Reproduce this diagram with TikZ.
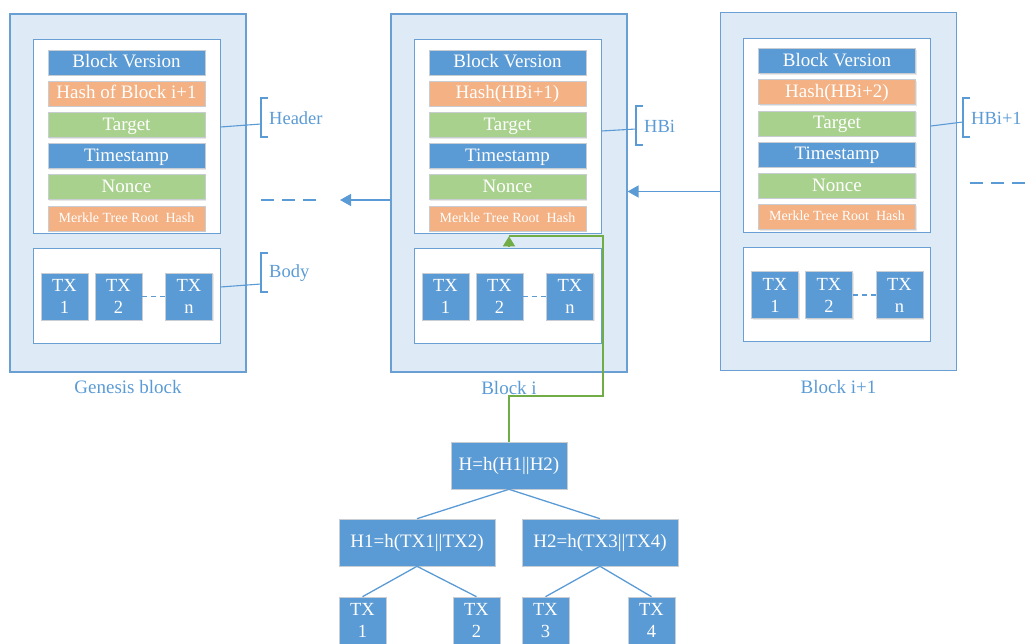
\documentclass[tikz,border=0pt]{standalone}
\usepackage{fontspec}
\setmainfont{Liberation Serif}
\usetikzlibrary{arrows.meta,shadows,calc}
\definecolor{cblue}{HTML}{5B9BD5}
\definecolor{cline}{HTML}{6A9FD3}
\definecolor{corange}{HTML}{F4B183}
\definecolor{cgreen}{HTML}{A9D18E}
\definecolor{cbg}{HTML}{DEEAF6}
\definecolor{gline}{HTML}{70AD47}
\definecolor{cedge}{HTML}{C8CDD3}
\tikzset{
  blockbg/.style={draw=cline, fill=cbg, line width=1.1pt, minimum width=236pt, minimum height=358pt, inner sep=0pt},
  innerbox/.style={draw=cline, fill=white, line width=1pt, minimum width=187pt, inner sep=0pt},
  rowbox/.style={draw=cedge, line width=0.6pt, minimum width=157pt, minimum height=25pt, inner sep=0pt,
    text=white, font=\fontsize{19}{21}\selectfont, text height=12.5pt, text depth=2pt,
    drop shadow={opacity=0.18, shadow xshift=1.2pt, shadow yshift=-1.2pt}},
  rowblue/.style={rowbox, fill=cblue},
  roworange/.style={rowbox, fill=corange},
  rowgreen/.style={rowbox, fill=cgreen},
  txbox/.style={draw=cedge, line width=0.6pt, fill=cblue, minimum width=47pt, minimum height=47pt, inner sep=0pt,
    text=white, align=center, font=\fontsize{18.5}{22}\selectfont,
    drop shadow={opacity=0.18, shadow xshift=1.2pt, shadow yshift=-1.2pt}},
  mnode/.style={draw=cedge, line width=0.6pt, fill=cblue, minimum height=47pt, inner sep=0pt,
    text=white, font=\fontsize{19}{21}\selectfont, text height=12.5pt, text depth=3pt,
    drop shadow={opacity=0.18, shadow xshift=1.2pt, shadow yshift=-1.2pt}},
  caption/.style={text=cblue, font=\fontsize{19}{21}\selectfont, inner sep=0pt},
  lbl/.style={text=cblue, font=\fontsize{18.5}{21}\selectfont, inner sep=0pt, anchor=west},
  conn/.style={draw=cblue, line width=1.1pt},
  bracketline/.style={draw=cblue, line width=1.1pt},
  txdash/.style={draw=cblue, line width=1.1pt, dash pattern=on 5pt off 4pt},
  chaindash/.style={draw=cblue, line width=1.5pt, dash pattern=on 13pt off 8pt},
  chainarrow/.style={draw=cblue, line width=1.4pt, -{Triangle[length=11pt,width=12pt]}},
  greenline/.style={draw=gline, line width=1.5pt},
  treeline/.style={draw=cblue, line width=1.3pt}
}
\newcommand\chainblock[6]{%
  \node[blockbg] (#1) at (#2,#3) {};
  \node[innerbox, minimum height=194pt] (#1-head) at ({#2-1.5},{#3-56}) {};
  \node[innerbox, minimum height=94pt] (#1-body) at ({#2-1.5},{#3+103}) {};
  \node[rowblue] (#1-r1) at ({#2-1.5},{#3-130.5}) {Block Version};
  \node[roworange] (#1-r2) at ({#2-1.5},{#3-99.3}) {#4};
  \node[rowgreen] (#1-r3) at ({#2-1.5},{#3-68.1}) {Target};
  \node[rowblue] (#1-r4) at ({#2-1.5},{#3-36.9}) {Timestamp};
  \node[rowgreen] (#1-r5) at ({#2-1.5},{#3-5.7}) {Nonce};
  \node[roworange, font=\fontsize{14}{16}\selectfont, text height=9.5pt, text depth=1.5pt] (#1-r6) at ({#2-1.5},{#3+25.5}) {Merkle Tree Root\ \ Hash};
  \node[txbox] (#1-t1) at ({#2-63.5},{#3+103.5}) {TX\\1};
  \node[txbox] (#1-t2) at ({#2-9.5},{#3+103.5}) {TX\\2};
  \node[txbox] (#1-tn) at ({#2+61},{#3+103.5}) {TX\\n};
  \draw[txdash] (#1-t2.east) -- (#1-tn.west);
  \node[caption] (#1-cap) at (#2,#6) {#5};
}
\begin{document}
\begin{tikzpicture}[x=1pt,y=-1pt]
\useasboundingbox (0,0) rectangle (1033,644);
\clip (0,0) rectangle (1033,644);

\chainblock{g}{128}{193}{Hash of Block i+1}{Genesis block}{387}
\chainblock{bi}{509}{193}{Hash(HBi+1)}{Block i}{388}
\chainblock{bn}{838.5}{191.5}{Hash(HBi+2)}{Block i+1}{387}

% brackets and labels
\coordinate (gHb) at (261,124);
\draw[bracketline] (268,98) -- (261,98) -- (261,137) -- (268,137);
\draw[conn] ($(g-head.east)+(0,-10)$) -- (gHb);
\node[lbl] (gHl) at (269,118) {Header};

\coordinate (gBb) at (261,284);
\draw[bracketline] (268,253) -- (261,253) -- (261,292) -- (268,292);
\draw[conn] ($(g-body.east)+(0,-9)$) -- (gBb);
\node[lbl] (gBl) at (269,273) {Body};

\coordinate (biHb) at (636,129);
\draw[bracketline] (643,106) -- (636,106) -- (636,145) -- (643,145);
\draw[conn] ($(bi-head.east)+(0,-6)$) -- (biHb);
\node[lbl] (biHl) at (644,126) {HBi};

\coordinate (bnHb) at (963,122);
\draw[bracketline] (970,98) -- (963,98) -- (963,137) -- (970,137);
\draw[conn] ($(bn-head.east)+(0,-9.5)$) -- (bnHb);
\node[lbl] (bnHl) at (971,118) {HBi+1};

% chain links
\coordinate (d1a) at (261,200);
\coordinate (d1b) at (318,200);
\draw[chaindash] (d1a) -- (d1b);
\coordinate (arL) at (340,200);
\draw[chainarrow] ($(bi.west)+(0,7)$) -- (arL);
\draw[chainarrow] (bn.west) -- (bi.east |- bn.west);
\coordinate (d2a) at (970,183);
\coordinate (d2b) at (1040,183);
\draw[chaindash] (d2a) -- (d2b);

% Merkle tree
\node[mnode, minimum width=116pt] (root) at (509,465.5) {H=h(H1||H2)};
\node[mnode, minimum width=156pt] (h1) at (417,542.5) {H1=h(TX1||TX2)};
\node[mnode, minimum width=156pt] (h2) at (600,542.5) {H2=h(TX3||TX4)};
\node[txbox] (l1) at (362.5,620.5) {TX\\1};
\node[txbox] (l2) at (476.5,620.5) {TX\\2};
\node[txbox] (l3) at (545.5,620.5) {TX\\3};
\node[txbox] (l4) at (651.5,620.5) {TX\\4};
\draw[treeline] (root.south) -- (h1.north);
\draw[treeline] (root.south) -- (h2.north);
\draw[treeline] (h1.south) -- (l1.north);
\draw[treeline] (h1.south) -- (l2.north);
\draw[treeline] (h2.south) -- (l3.north);
\draw[treeline] (h2.south) -- (l4.north);

% green link from root to Merkle root hash of block i
\coordinate (gr1) at (603,396);
\coordinate (gr2) at (603,236);
\coordinate (gr3) at (509,236);
\draw[greenline] (root.north) |- (gr1) -- (gr2) -- (gr3);
\draw[greenline, -{Triangle[length=10pt,width=12pt]}] ($(bi-r6.south)+(1.5,16)$) -- ($(bi-r6.south)+(1.5,5)$);
\end{tikzpicture}
\end{document}
